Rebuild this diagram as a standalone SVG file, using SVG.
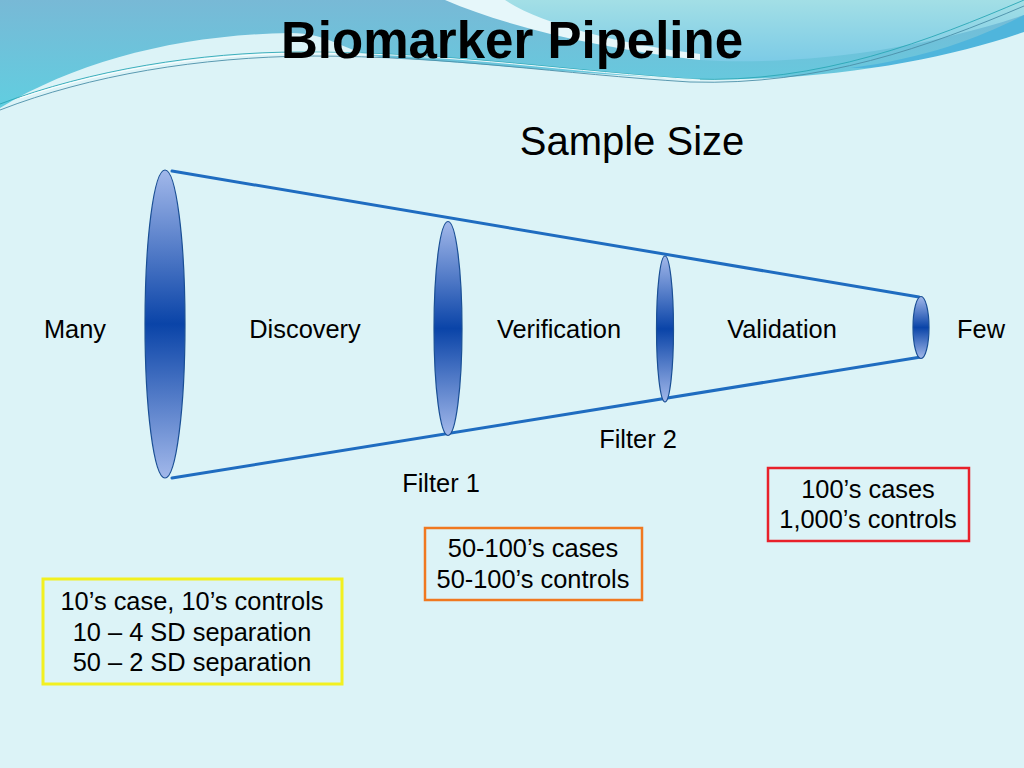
<svg xmlns="http://www.w3.org/2000/svg" width="1024" height="768" viewBox="0 0 1024 768">
<defs>
<linearGradient id="hdr" x1="0" y1="0" x2="0" y2="1">
<stop offset="0" stop-color="#78b9d6"/>
<stop offset="1" stop-color="#5cd2e2"/>
</linearGradient>
<linearGradient id="tr" x1="0" y1="0" x2="0" y2="1">
<stop offset="0" stop-color="#a3dfe6"/>
<stop offset="1" stop-color="#7ccbe6"/>
</linearGradient>
<linearGradient id="lens" x1="0" y1="0" x2="0" y2="1">
<stop offset="0" stop-color="#a2b8ea"/>
<stop offset="0.5" stop-color="#0a44a8"/>
<stop offset="1" stop-color="#a2b8ea"/>
</linearGradient>
<style>
.lbl{font-family:"Liberation Sans",Arial,sans-serif;font-size:25.4px;fill:#000;text-anchor:middle}
.lens{fill:url(#lens);stroke:#1a4f95;stroke-width:1.2}
.edge{stroke:#1f6cc0;stroke-width:3;fill:none;stroke-linecap:round}
.box{fill:none}
.thin{fill:none;stroke-width:0.9}
</style>
</defs>
<g id="header">
<rect width="1024" height="130" fill="url(#hdr)"/>
<path d="M470,0 C530,30 610,52 700,60 C800,66 920,50 1024,15 V0 Z" fill="url(#tr)"/>
<path d="M445,0 C510,28 600,48 700,60 L700,54 C620,44 540,24 505,0 Z" fill="#e6f7fa"/>
<path d="M850,68 C930,58 985,35 1024,15 V34 C975,57 920,68 850,68 Z" fill="#4fb5dc"/>
<path d="M0,108 C80,60 180,35 290,33 C330,33 345,52 380,57 C500,65 600,76 700,79 C830,82 950,58 1024,32 V768 H0 Z" fill="#dcf3f7"/>
<path class="thin" d="M0,104 C90,70 200,52 300,52 C450,52 560,70 690,79 C820,84 930,40 1024,0" stroke="#2aa7b5"/>
<path class="thin" d="M0,110 C90,75 200,57 310,56 C450,56 560,74 690,82 C820,86 930,46 1024,6" stroke="#4b8fa8"/>
<path class="thin" d="M20,98 C110,68 210,53 320,53 C460,54 570,72 700,80" stroke="#ffffff" stroke-width="1.4"/>
</g>
<text x="512" y="58" font-family="'Liberation Sans',Arial,sans-serif" font-size="51" font-weight="bold" text-anchor="middle" fill="#000">Biomarker Pipeline</text>
<text x="632" y="155" font-family="'Liberation Sans',Arial,sans-serif" font-size="40" text-anchor="middle" fill="#000">Sample Size</text>
<g id="connectors">
<line class="edge" x1="172" y1="171" x2="919" y2="297"/>
<line class="edge" x1="172" y1="478" x2="921" y2="357"/>
</g>
<g id="lens1"><ellipse class="lens" cx="165" cy="324" rx="20" ry="154"/></g>
<g id="lens2"><ellipse class="lens" cx="448" cy="328.5" rx="14" ry="107"/></g>
<g id="lens3"><ellipse class="lens" cx="665" cy="329" rx="8.5" ry="73"/></g>
<g id="lens4"><ellipse class="lens" cx="921" cy="327.5" rx="8" ry="31"/></g>
<g id="labels">
<text class="lbl" x="75" y="338">Many</text>
<text class="lbl" x="305" y="338">Discovery</text>
<text class="lbl" x="559" y="338">Verification</text>
<text class="lbl" x="782" y="338">Validation</text>
<text class="lbl" x="981" y="338">Few</text>
<text class="lbl" x="638" y="448">Filter 2</text>
<text class="lbl" x="441" y="492">Filter 1</text>
</g>
<g id="box-validation">
<rect class="box" x="768" y="468" width="201" height="73" stroke="#e8202a" stroke-width="2.5"/>
<text class="lbl" x="868" y="498">100’s cases</text>
<text class="lbl" x="868" y="528">1,000’s controls</text>
</g>
<g id="box-verification">
<rect class="box" x="425" y="528" width="217" height="72" stroke="#f07820" stroke-width="2.5"/>
<text class="lbl" x="533" y="557">50-100’s cases</text>
<text class="lbl" x="533" y="588">50-100’s controls</text>
</g>
<g id="box-discovery">
<rect class="box" x="43" y="579" width="299" height="105" stroke="#f2f020" stroke-width="3"/>
<text class="lbl" x="192" y="610">10’s case, 10’s controls</text>
<text class="lbl" x="192" y="641">10 – 4 SD separation</text>
<text class="lbl" x="192" y="671">50 – 2 SD separation</text>
</g>
</svg>
